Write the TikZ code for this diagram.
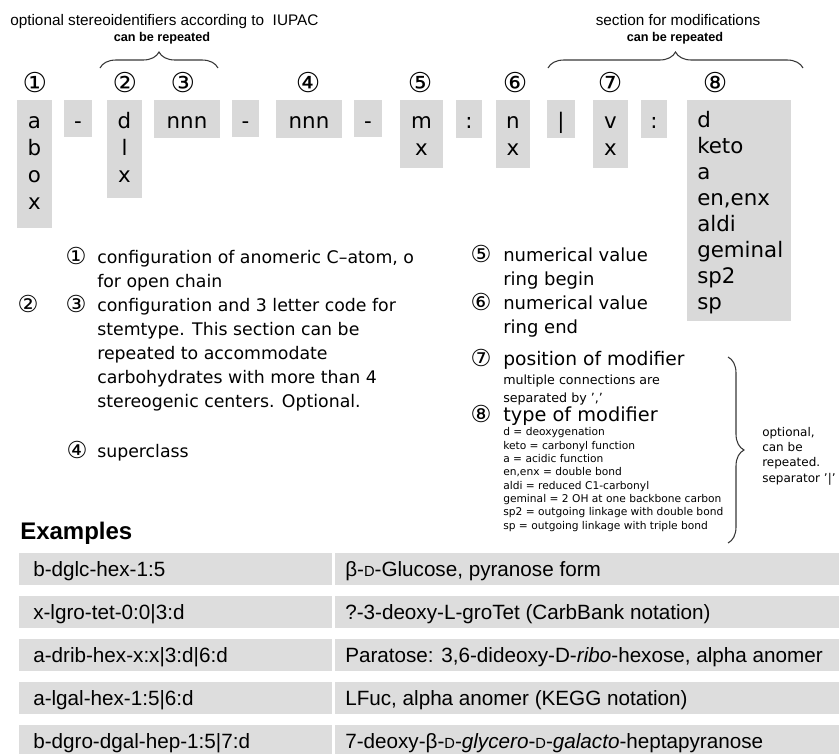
\documentclass[tikz,border=0pt]{standalone}
\usepackage{fontspec}
\setmainfont{DejaVu Sans}
\newfontfamily\arialfont{Liberation Sans}
\usetikzlibrary{decorations.pathreplacing}

\definecolor{slotgray}{RGB}{217,217,217}
\definecolor{rowgray}{RGB}{221,221,221}
\definecolor{bracegray}{RGB}{55,55,55}

\newcommand{\scD}{{\fontsize{11}{11}\selectfont D}}

\tikzstyle{toplabel} = [inner sep=0pt, anchor=base, font=\arialfont\fontsize{11.5}{13}\selectfont]
\tikzstyle{replabel} = [inner sep=0pt, anchor=base, font=\arialfont\bfseries\fontsize{9.5}{11}\selectfont]
\tikzstyle{curly} = [decorate, decoration={brace, amplitude=12pt}, draw=bracegray, line width=0.8pt]
\tikzstyle{slot} = [fill=slotgray]
\tikzstyle{slottext} = [inner sep=0pt, anchor=base, align=center, font=\fontsize{16}{20.25}\selectfont]
\tikzstyle{circnum} = [inner sep=0pt, font=\fontsize{20.5}{20.5}\selectfont]
\tikzstyle{desc} = [inner sep=0pt, anchor=base west, align=left, font=\fontsize{13}{18}\selectfont]
\tikzstyle{descnum} = [inner sep=0pt, anchor=base, font=\fontsize{17.5}{17.5}\selectfont]
\tikzstyle{smalldesc} = [inner sep=0pt, anchor=base west, align=left, font=\fontsize{8}{10}\selectfont]
\tikzstyle{rowtext} = [inner sep=0pt, anchor=base west, font=\arialfont\fontsize{15.5}{18}\selectfont]

\begin{document}
\begin{tikzpicture}[x=0.75pt,y=-0.75pt]
\useasboundingbox (0,0) rectangle (839,754);

\node (iupac) [toplabel, anchor=base west] at (10,25) {optional stereoidentifiers according to\ \ IUPAC};

\node (iupacrep) [replabel] at (162,41) {can be repeated};

\node (modsec) [toplabel] at (678,25) {section for modifications};

\node (modrep) [replabel] at (675,41) {can be repeated};

\coordinate (stereoL) at (100,68);
\coordinate (stereoR) at (218,68);
\coordinate (modL) at (548,68);
\coordinate (modR) at (803,68);
\draw [curly] (stereoL) -- (stereoR);
\draw [curly] (modL) -- (modR);

\node (n1) [circnum] at (35,83) {①};
\node (n2) [circnum] at (125,83) {②};
\node (n3) [circnum] at (183,83) {③};
\node (n4) [circnum] at (308,83) {④};
\node (n5) [circnum] at (420,83) {⑤};
\node (n6) [circnum] at (515,83) {⑥};
\node (n7) [circnum] at (610,83) {⑦};
\node (n8) [circnum] at (715,83) {⑧};

% multi-line nodes sit on the baseline of their last line
\fill [slot] (17,100) rectangle (52,228);
\node (anomer) [slottext] at (34.5,209) {a\\b\\o\\x};

\fill [slot] (64,100) rectangle (92,137);
\node (dash1) [slottext] at (78,128) {-};

\fill [slot] (107,100) rectangle (142,198);
\node (config) [slottext] at (124.5,182) {d\\l\\x};

\fill [slot] (154,100) rectangle (220,138);
\node (stem) [slottext] at (187,128) {nnn};

\fill [slot] (232,100) rectangle (259,137);
\node (dash2) [slottext] at (245.5,128) {-};

\fill [slot] (276,100) rectangle (342,138);
\node (super) [slottext] at (309,128) {nnn};

\fill [slot] (354,100) rectangle (382,137);
\node (dash3) [slottext] at (368,128) {-};

\fill [slot] (400,100) rectangle (443,168);
\node (ringbeg) [slottext] at (421.5,155) {m\\x};

\fill [slot] (456,100) rectangle (482,138);
\node (colon1) [slottext] at (469,128) {:};

\fill [slot] (496,100) rectangle (530,168);
\node (ringend) [slottext] at (513,155) {n\\x};

\fill [slot] (547,100) rectangle (575,138);
\node (bar) [slottext] at (561,128) {|};

\fill [slot] (593,100) rectangle (628,168);
\node (modpos) [slottext] at (610.5,155) {v\\x};

\fill [slot] (641,100) rectangle (667,138);
\node (colon2) [slottext] at (654,128) {:};

\fill [slot] (687,100) rectangle (791,321);
\node (modtype) [slottext, anchor=base west, align=left, font=\fontsize{16}{19.5}\selectfont] at (697,309) {d\\keto\\a\\en,enx\\aldi\\geminal\\sp2\\sp};

\node (d1num) [descnum] at (76,264) {①};
\node (d1) [desc] at (97,287) {configuration of anomeric C–atom, o\\for open chain};

\node (d2num) [descnum] at (28,312) {②};
\node (d3num) [descnum] at (76,312) {③};
\node (d3) [desc] at (97,407) {configuration and 3 letter code for\\stemtype. This section can be\\repeated to accommodate\\carbohydrates with more than 4\\stereogenic centers. Optional.};

\node (d4num) [descnum] at (77,458) {④};
\node (d4) [desc] at (97,457) {superclass};

\node (d5num) [descnum] at (481,262) {⑤};
\node (d5) [desc, font=\fontsize{13.5}{18}\selectfont] at (503,285) {numerical value\\ring begin};

\node (d6num) [descnum] at (481,310) {⑥};
\node (d6) [desc, font=\fontsize{13.5}{18}\selectfont] at (503,333) {numerical value\\ring end};

\node (d7num) [descnum] at (481,366) {⑦};
\node (d7) [desc, font=\fontsize{14}{18}\selectfont] at (503,365) {position of modifier};
\node (d7note) [smalldesc, font=\fontsize{9.5}{13.5}\selectfont] at (503,402) {multiple connections are\\separated by ','};

\node (d8num) [descnum] at (481,422) {⑧};
\node (d8) [desc, font=\fontsize{14.5}{18}\selectfont] at (503,421) {type of modifier};
\node (d8note) [smalldesc] at (503,529.3) {d = deoxygenation\\keto = carbonyl function\\a = acidic function\\en,enx = double bond\\aldi = reduced C1-carbonyl\\geminal = 2 OH at one backbone carbon\\sp2 = outgoing linkage with double bond\\sp = outgoing linkage with triple bond};

\coordinate (optT) at (728,357);
\coordinate (optB) at (728,543);
\draw [curly] (optT) -- (optB);

\node (optnote) [smalldesc, font=\fontsize{9}{11.6}\selectfont] at (762,482.4) {optional,\\can be\\repeated.\\separator '|'};

\node (examples) [inner sep=0pt, anchor=base west, font=\arialfont\bfseries\fontsize{18}{20}\selectfont] at (20,539) {Examples};

\fill [rowgray] (19,553) rectangle (332,585);
\fill [rowgray] (335,553) rectangle (839,585);
\node (code1) [rowtext] at (33,576) {b-dglc-hex-1:5};
\node (name1) [rowtext] at (345,576) {β-\scD-Glucose, pyranose form};

\fill [rowgray] (19,596) rectangle (332,628);
\fill [rowgray] (335,596) rectangle (839,628);
\node (code2) [rowtext] at (33,619) {x-lgro-tet-0:0|3:d};
\node (name2) [rowtext] at (345,619) {?-3-deoxy-L-groTet (CarbBank notation)};

\fill [rowgray] (19,639) rectangle (332,671);
\fill [rowgray] (335,639) rectangle (839,671);
\node (code3) [rowtext] at (33,662) {a-drib-hex-x:x|3:d|6:d};
\node (name3) [rowtext] at (345,662) {Paratose: 3,6-dideoxy-D-\textit{ribo}-hexose, alpha anomer};

\fill [rowgray] (19,682) rectangle (332,714);
\fill [rowgray] (335,682) rectangle (839,714);
\node (code4) [rowtext] at (33,705) {a-lgal-hex-1:5|6:d};
\node (name4) [rowtext] at (345,705) {LFuc, alpha anomer (KEGG notation)};

\fill [rowgray] (19,725) rectangle (332,754);
\fill [rowgray] (335,725) rectangle (839,754);
\node (code5) [rowtext] at (33,748) {b-dgro-dgal-hep-1:5|7:d};
\node (name5) [rowtext] at (345,748) {7-deoxy-β-\scD-\textit{glycero}-\scD-\textit{galacto}-heptapyranose};

\end{tikzpicture}
\end{document}
